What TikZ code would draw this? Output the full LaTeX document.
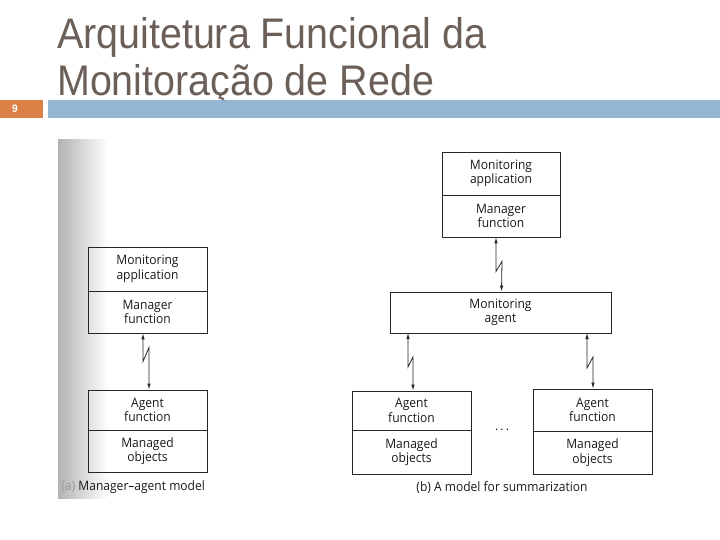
\documentclass[tikz,border=0pt]{standalone}
\usepackage{fontspec}
\setmainfont[FakeStretch=0.93]{Open Sans}
\newfontfamily\titlefont[FakeStretch=0.92]{Liberation Sans}
\usetikzlibrary{arrows.meta}

\tikzset{
	part/.style={draw=black!85, line width=0.8bp, minimum width=119bp, minimum height=42bp, inner sep=0pt, align=center, text=black!90, font=\fontsize{13}{14.5}\selectfont},
	link/.style={draw=black!85, line width=0.8bp, {Latex[length=6bp,width=3.5bp]}-{Latex[length=6bp,width=3.5bp]}},
	caption/.style={text=black!90, font=\fontsize{13}{14.5}\selectfont},
}

\begin{document}
\begin{tikzpicture}[x=1bp, y=-1bp]
		\definecolor{titlegray}{HTML}{6B5F58}
		\definecolor{barblue}{HTML}{94B6D2}
		\definecolor{barorange}{HTML}{DD8047}
		\useasboundingbox (0,0) rectangle (720,540);
		% header
		\node[anchor=base west, inner sep=0pt, text=titlegray, align=left, font=\titlefont\fontsize{43}{48}\selectfont] (title) at (57,96) {Arquitetura Funcional da\\Monitoração de Rede};
		\fill[barorange] (0,100) rectangle (43,118);
		\fill[barblue] (48,100) rectangle (720,118);
		\node[text=white, font=\titlefont\bfseries\fontsize{11}{12}\selectfont] (page) at (15,109) {9};
		% scan shadow
		\shade[left color=black!30, right color=white] (58,140) rectangle (108,498);
		% (a) Manager-agent model
		\node[part, minimum height=44bp] (aapp) at (147.5,269) {Monitoring\\application};
		\node[part] (amgr) at (147.5,312) {Manager\\function};
		\node[part, minimum height=40bp] (aagt) at (147.5,410) {Agent\\function};
		\node[part] (aobj) at (147.5,451) {Managed\\objects};
		\draw[link] ([xshift=-4.5bp]amgr.south) -- ++(0,28) -- ++(6,-14) -- ([xshift=1.5bp]aagt.north);
		\node[caption, anchor=west] (capa) at (58,487) {\textcolor{black!40}{(a)} Manager–agent model};
		% (b) A model for summarization
		\node[part, minimum width=118bp, minimum height=43bp] (bapp) at (501,173.5) {Monitoring\\application};
		\node[part, minimum width=118bp] (bmgr) at (501,216) {Manager\\function};
		\node[part, minimum width=221bp, minimum height=41bp] (bagent) at (500.5,312.5) {Monitoring\\agent};
		\node[part, minimum height=39bp] (lagt) at (411.5,410.5) {Agent\\function};
		\node[part, minimum height=44bp] (lobj) at (411.5,452) {Managed\\objects};
		\node[part] (ragt) at (592.5,410) {Agent\\function};
		\node[part, minimum height=43bp] (robj) at (592.5,452.5) {Managed\\objects};
		\draw[link] ([xshift=-5bp]bmgr.south) -- ++(0,34) -- ++(6,-10) -- ([xshift=1bp]bagent.north);
		\draw[link] (408,333) -- (408,367) -- (413,357) -- (lagt.north -| 413,0);
		\draw[link] (587,333) -- (587,368) -- (593,357) -- (ragt.north -| 593,0);
		\node[caption] (dots) at (502,430) {.\,.\,.};
		\node[caption] (capb) at (502,488) {(b) A model for summarization};
\end{tikzpicture}
\end{document}
